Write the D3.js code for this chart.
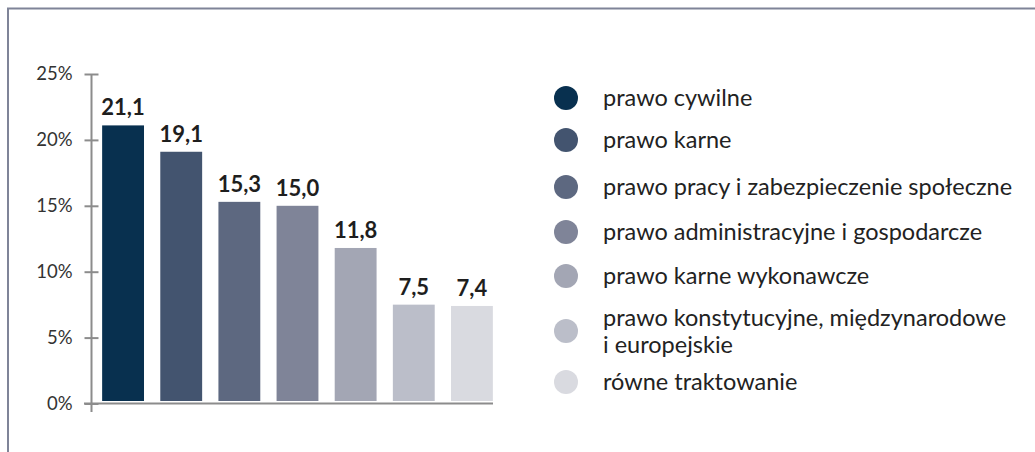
<!DOCTYPE html>
<html>
<head>
<meta charset="utf-8">
<script src="https://cdn.jsdelivr.net/npm/d3@7"></script>
<style>
  body { margin: 0; background: #fff; }
  svg { display: block; font-family: Lato, "Noto Sans", sans-serif; }
</style>
</head>
<body>
<svg id="chart" width="1035" height="452"></svg>
<script>
const categories = [
    "prawo cywilne",
    "prawo karne",
    "prawo pracy i zabezpieczenie społeczne",
    "prawo administracyjne i gospodarcze",
    "prawo karne wykonawcze",
    "prawo konstytucyjne, międzynarodowe\ni europejskie",
    "równe traktowanie"
]
const values = [21.1, 19.1, 15.3, 15.0, 11.8, 7.5, 7.4]
const colors = ["#08304f", "#43546f", "#5d6880", "#7f8498", "#a3a6b4", "#bbbec9", "#d9dae0"]
const yTicks = [0, 5, 10, 15, 20, 25]

const svg = d3.select("#chart")

// frame: top and left edge only
svg.append("path")
    .attr("d", "M8,452 L8,8.5 L1035,8.5")
    .attr("fill", "none")
    .attr("stroke", "#7f8498")
    .attr("stroke-width", 2)

const x = d3.scaleBand()
    .domain(d3.range(values.length))
    .range([94, 501])
    .paddingInner(0.28)
    .paddingOuter(0.14)

const y = d3.scaleLinear().domain([0, 25]).range([403.5, 74])

// bars
svg.append("g")
    .selectAll("rect")
    .data(values)
    .join("rect")
    .attr("x", (d, i) => x(i))
    .attr("width", x.bandwidth())
    .attr("y", d => y(d))
    .attr("height", d => y(0) - 2.5 - y(d))
    .attr("fill", (d, i) => colors[i])

// value labels
svg.append("g")
    .selectAll("text")
    .data(values)
    .join("text")
    .attr("x", (d, i) => x(i) + x.bandwidth() / 2)
    .attr("y", d => y(d) - 10)
    .attr("text-anchor", "middle")
    .attr("font-size", 22)
    .attr("font-weight", 700)
    .attr("fill", "#1e1e1e")
    .text(d => d.toFixed(1).replace(".", ","))

// y axis
const yAxis = d3.axisLeft(y)
    .tickValues(yTicks)
    .tickFormat(d => d + "%")
    .tickSizeInner(7)
    .tickSizeOuter(0)
    .tickPadding(12)

const ay = svg.append("g")
    .attr("transform", "translate(91.5,0)")
    .call(yAxis)
ay.select(".domain").remove()
ay.selectAll(".tick line")
    .attr("x1", -7).attr("x2", 7)
    .attr("stroke", "#8c8c8c").attr("stroke-width", 2)
ay.selectAll(".tick text")
    .attr("font-size", 18.5)
    .attr("fill", "#333")
    .attr("font-family", "Lato, 'Noto Sans', sans-serif")

// axis lines
svg.append("line")
    .attr("x1", 91.5).attr("x2", 91.5)
    .attr("y1", y(25)).attr("y2", 412)
    .attr("stroke", "#8c8c8c").attr("stroke-width", 2)
svg.append("line")
    .attr("x1", 84).attr("x2", 493)
    .attr("y1", y(0)).attr("y2", y(0))
    .attr("stroke", "#8c8c8c").attr("stroke-width", 2)

// legend
const legendY = [98, 140, 187, 232, 276, 331, 382]
const legend = svg.append("g")
    .selectAll("g")
    .data(categories)
    .join("g")
    .attr("transform", (d, i) => `translate(566,${legendY[i]})`)

legend.append("circle")
    .attr("r", 12)
    .attr("fill", (d, i) => colors[i])

legend.append("text")
    .attr("x", 37)
    .attr("font-size", 23.5)
    .attr("fill", "#222")
    .each(function (d) {
        const lines = d.split("\n")
        const t = d3.select(this)
        lines.forEach((line, j) => {
            t.append("tspan")
                .attr("x", 37)
                .attr("y", (j - (lines.length - 1) / 2) * 27 + 8)
                .text(line)
        })
    })
</script>
</body>
</html>
